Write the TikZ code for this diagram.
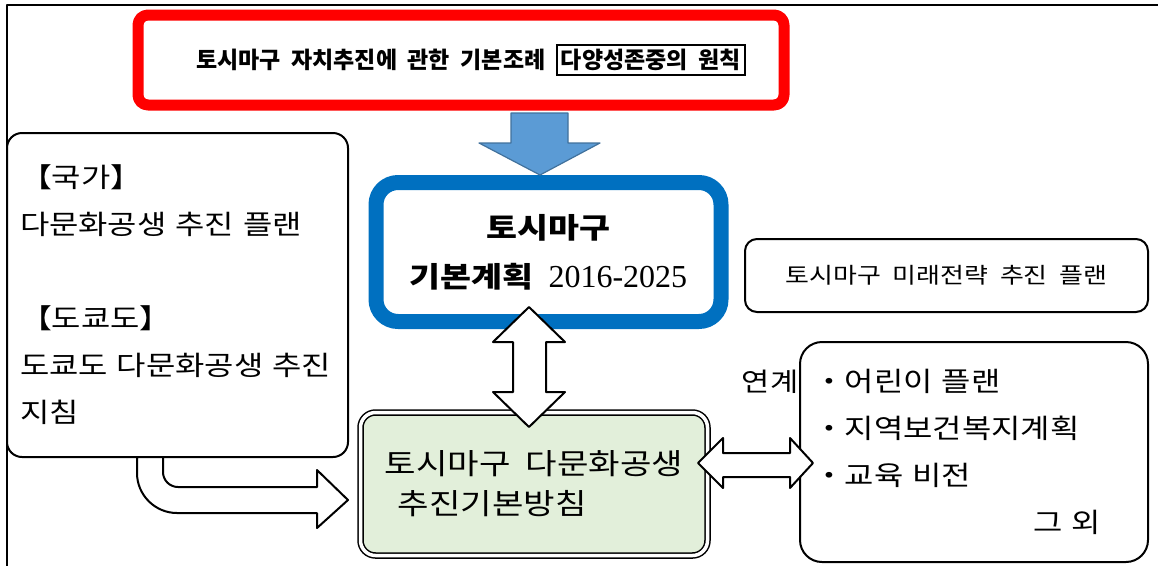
\documentclass[tikz,border=0pt]{standalone}
\usepackage{fontspec}
\newfontfamily\kr[WordSpace=2]{Noto Sans CJK KR}
\newfontfamily\krw[WordSpace=2, FakeStretch=1.18]{Noto Sans CJK KR}
\newfontfamily\num{Liberation Serif}
\definecolor{lawred}{RGB}{255,0,0}
\definecolor{planblue}{RGB}{0,112,192}
\definecolor{arrowblue}{RGB}{91,155,213}
\definecolor{arrowedge}{RGB}{65,113,156}
\definecolor{guidegreen}{RGB}{226,239,218}
\begin{document}
\begin{tikzpicture}[x=1pt, y=-1pt, line join=round,
	panel/.style={draw, line width=2pt, rounded corners=15pt, inner xsep=13pt},
	hollow/.style={draw, fill=white, line width=2pt}]
	\useasboundingbox (0,0) rectangle (1158,566);
	% frame
	\draw[line width=2.5pt] (1158,5) -- (7,5) -- (7,566);
	% boxes
	\node[draw=lawred, line width=11pt, rounded corners=10pt, minimum width=646pt, minimum height=90pt,
		font=\kr\bfseries\fontsize{23}{27}\selectfont] (law) at (461,60)
		{\hspace*{20pt}토시마구 자치추진에 관한 기본조례 {\fboxsep=3pt\fboxrule=2pt\fbox{다양성존중의 원칙}}};
	\node[draw=planblue, fill=white, line width=15pt, rounded corners=22pt, minimum width=345pt, minimum height=139pt,
		align=center, font=\krw\fontsize{28.5}{49}\selectfont] (plan) at (548.5,252)
		{{\bfseries 토시마구}\\{\bfseries 기본계획} {\num\fontsize{32}{49}\selectfont 2016-2025}};
	\node[draw, line width=1.5pt, double=white, double distance=3.5pt, fill=guidegreen, rounded corners=15pt,
		minimum width=347pt, minimum height=143pt, align=left,
		font=\krw\fontsize{29}{40}\selectfont] (guide) at (534,484)
		{토시마구 다문화공생\\\hspace*{13pt}추진기본방침};
	\node[panel, minimum width=341pt, minimum height=324pt, text width=315pt, align=left,
		font=\krw\fontsize{27}{47}\selectfont] (state) at (177.5,295)
		{【국가】\\다문화공생 추진 플랜\\[47pt]【도쿄도】\\도쿄도 다문화공생 추진\\지침};
	\node[panel, rounded corners=12pt, minimum width=403pt, minimum height=73pt,
		font=\krw\fontsize{22}{26}\selectfont] (future) at (946.5,275.5)
		{토시마구 미래전략 추진 플랜};
	\node[panel, rounded corners=22pt, minimum width=348pt, minimum height=220pt, text width=322pt, align=left,
		font=\krw\fontsize{27}{47}\selectfont] (links) at (974,452)
		{・어린이 플랜\\・지역보건복지계획\\・교육 비전\\\hspace*{220pt}그 외};
	\node[inner sep=0pt, font=\krw\fontsize{26}{30}\selectfont] (link) at (770,382) {연계};
	% arrows
	\draw[draw=arrowedge, fill=arrowblue, line width=1.2pt] (511,113) -- (568,113) -- (568,143) -- (600,143)
		-- (540,175) -- (479,143) -- (511,143) -- cycle;
	\draw[hollow] (529,307) -- (565,342) -- (546,342) -- (546,392) -- (565,392) -- (529,427)
		-- (493,392) -- (513,392) -- (513,342) -- (493,342) -- cycle;
	\draw[hollow] (698,463) -- (723,438) -- (723,453) -- (790,453) -- (790,438) -- (813,463)
		-- (790,488) -- (790,477) -- (723,477) -- (723,488) -- cycle;
	\draw[hollow] (163,457) -- (163,472) .. controls (163,480.3) and (169.7,487) .. (178,487) -- (317,487)
		-- (317,470) -- (348,500) -- (317,528) -- (317,513) -- (177,513)
		.. controls (155,513) and (137,495) .. (137,473) -- (137,457) -- cycle;
\end{tikzpicture}
\end{document}
